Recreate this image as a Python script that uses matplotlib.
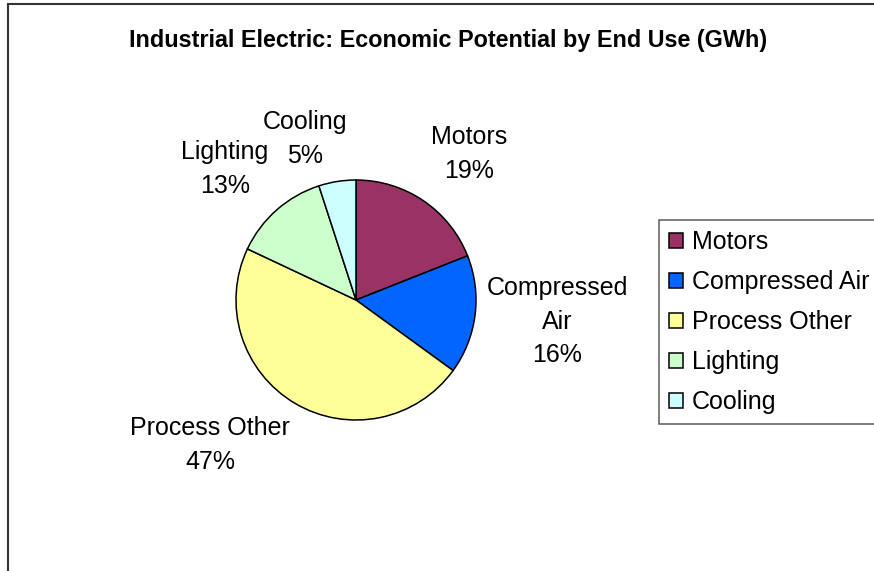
import matplotlib
matplotlib.use('Agg')
import matplotlib.pyplot as plt
import matplotlib.patches as patches
import numpy as np

plt.rcParams['font.family'] = ['Liberation Sans', 'DejaVu Sans']

# end use shares of economic potential (%)
end_uses = ['Motors', 'Compressed Air', 'Process Other', 'Lighting', 'Cooling']
shares = [19, 16, 47, 13, 5]
colors = ['#993366', '#0066FF', '#FFFF99', '#CCFFCC', '#CCFFFF']
label_texts = ['Motors\n19%', 'Compressed\nAir\n16%', 'Process Other\n47%',
               'Lighting\n13%', 'Cooling\n5%']
# where each label sits, as (distance from centre in radii, angle shift in deg)
label_place = [(1.54, -3.5), (1.685, 1.0), (1.715, -14.6), (1.544, 3.6),
               (1.408, 8.6)]

W, H = 874, 571
fig = plt.figure(figsize=(W / 100, H / 100), dpi=100)
fig.patch.set_facecolor('white')

# chart area frame (only left and top edges fall inside the picture)
fig.patches.append(patches.Rectangle((8 / W, -0.2), 1.5, 1.2 - 4 / H,
                                     transform=fig.transFigure,
                                     facecolor='none', edgecolor='#333333',
                                     linewidth=1.5))

fig.text(448 / W, 1 - 40 / H,
         'Industrial Electric: Economic Potential by End Use (GWh)',
         ha='center', va='center', fontsize=16.8, fontweight='bold')

ax = fig.add_axes([236 / W, 1 - 420 / H, 240 / W, 240 / H])
wedges, _ = ax.pie(shares, colors=colors, startangle=90, counterclock=False,
                   wedgeprops=dict(edgecolor='black', linewidth=1.1))
ax.set_xlim(-1, 1)
ax.set_ylim(-1, 1)
ax.set_aspect('equal')
ax.axis('off')

for w, txt, (dist, shift) in zip(wedges, label_texts, label_place):
    mid = np.deg2rad((w.theta1 + w.theta2) / 2 + shift)
    ax.text(dist * np.cos(mid), dist * np.sin(mid), txt, ha='center',
            va='center', fontsize=18, linespacing=1.5, clip_on=False)

handles = [patches.Patch(facecolor=c, edgecolor='black', linewidth=1.1)
           for c in colors]
leg = fig.legend(handles, end_uses, loc='upper left',
                 bbox_to_anchor=(659 / W, 1 - 220 / H), borderaxespad=0,
                 fontsize=18, frameon=True, fancybox=False,
                 handlelength=0.56, handleheight=0.56, handletextpad=0.36,
                 labelspacing=0.64, borderpad=0.4)
leg.get_frame().set_edgecolor('#333333')
leg.get_frame().set_linewidth(1.1)

fig.savefig('out.png', dpi=100)
